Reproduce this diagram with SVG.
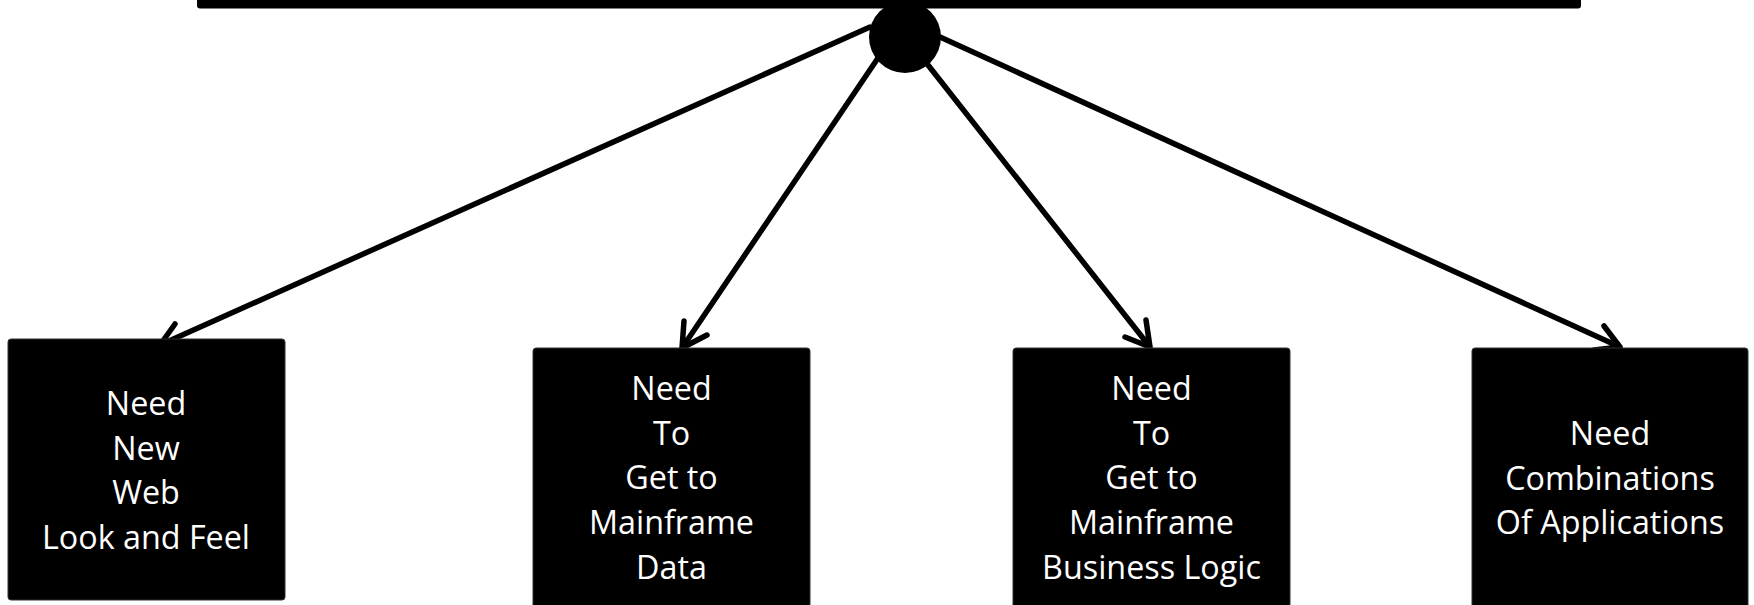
<svg xmlns="http://www.w3.org/2000/svg" width="1754" height="605" viewBox="0 0 1754 605">
<style>
.box{fill:#000;stroke:#333;stroke-width:1}
.lbl{fill:#fff;font-family:"Open Sans","Noto Sans",sans-serif;font-size:32.3px;text-anchor:middle}
.conn{stroke:#000;stroke-width:5.5;fill:none;stroke-linecap:round;stroke-linejoin:round}
</style>
<rect width="1754" height="605" fill="#fff"/>
<g id="bar"><rect x="197" y="-20" width="1384" height="28.5" rx="3" fill="#000"/></g>
<g id="junction"><circle cx="905" cy="37" r="36" fill="#000"/></g>
<g id="connectors" class="conn">
<path d="M870 27 L160 345 M160 345 L175 324 M160 345 L186 348"/>
<path d="M878 58 L682 348 M682 348 L684 321 M682 348 L707 335"/>
<path d="M928 65 L1150 347 M1150 347 L1146 320 M1150 347 L1125 337"/>
<path d="M940 37 L1620 347 M1620 347 L1604 326 M1620 347 L1594 350"/>
</g>
<g id="n1"><rect class="box" x="8" y="339" width="277" height="261" rx="3"/>
<text class="lbl"><tspan x="146" y="415">Need</tspan><tspan x="146" y="459.7">New</tspan><tspan x="146" y="504.4">Web</tspan><tspan x="146" y="549">Look and Feel</tspan></text></g>
<g id="n2"><rect class="box" x="533" y="348" width="277" height="270" rx="3"/>
<text class="lbl"><tspan x="671.5" y="400">Need</tspan><tspan x="671.5" y="444.7">To</tspan><tspan x="671.5" y="489.4">Get to</tspan><tspan x="671.5" y="534">Mainframe</tspan><tspan x="671.5" y="578.8">Data</tspan></text></g>
<g id="n3"><rect class="box" x="1013" y="348" width="277" height="270" rx="3"/>
<text class="lbl"><tspan x="1151.5" y="400">Need</tspan><tspan x="1151.5" y="444.7">To</tspan><tspan x="1151.5" y="489.4">Get to</tspan><tspan x="1151.5" y="534">Mainframe</tspan><tspan x="1151.5" y="578.8">Business Logic</tspan></text></g>
<g id="n4"><rect class="box" x="1472" y="348" width="276" height="270" rx="3"/>
<text class="lbl"><tspan x="1610" y="445">Need</tspan><tspan x="1610" y="489.5">Combinations</tspan><tspan x="1610" y="534">Of Applications</tspan></text></g>
</svg>
